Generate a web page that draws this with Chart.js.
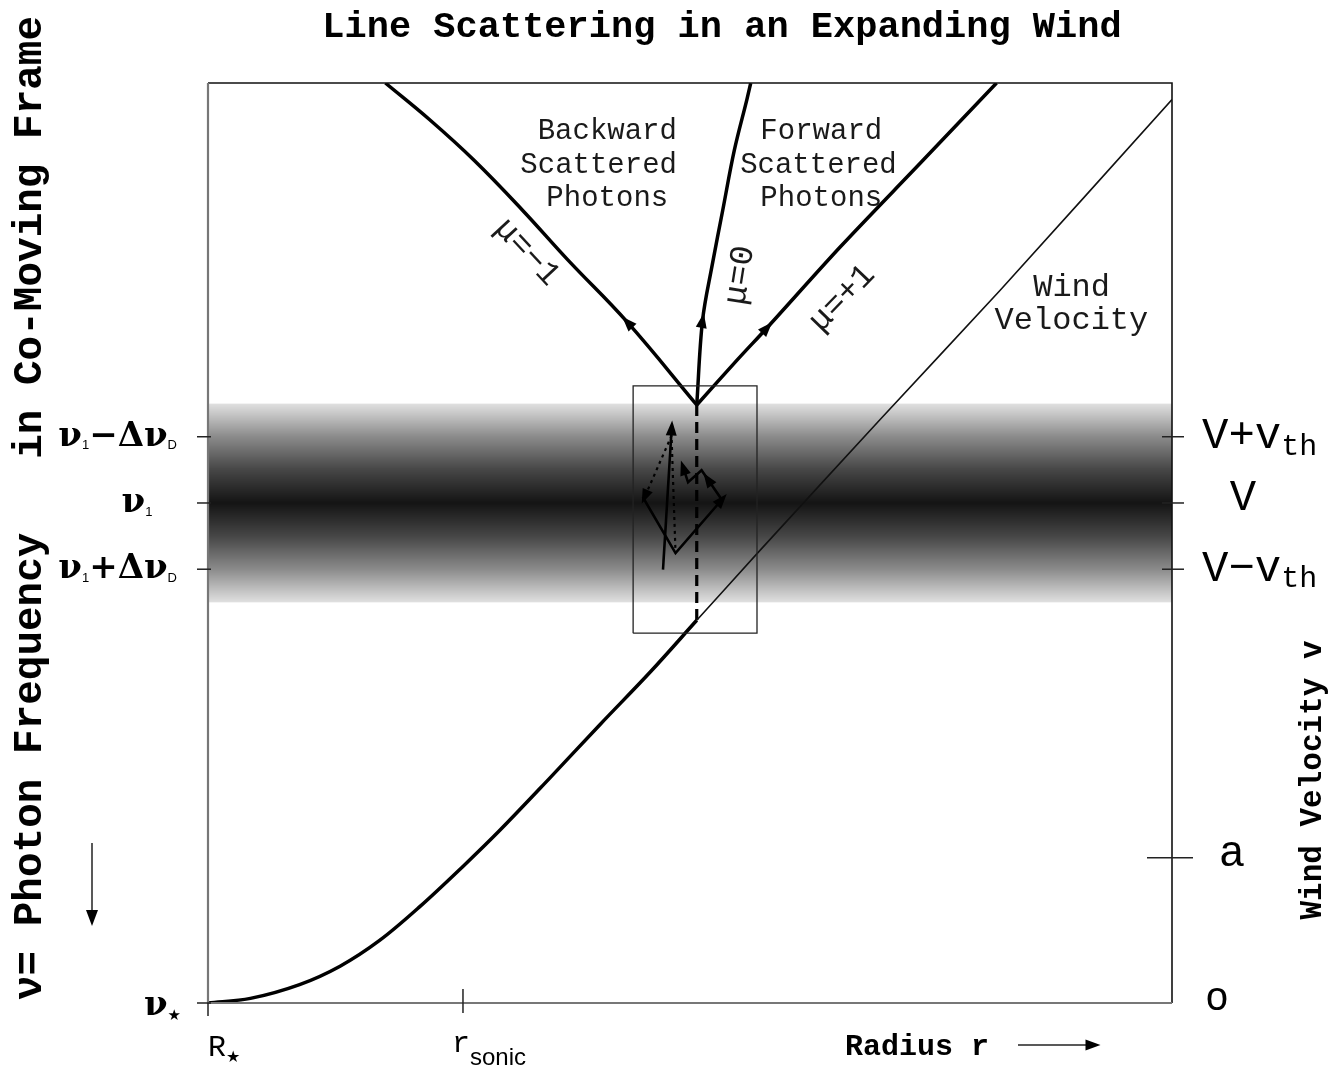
<!DOCTYPE html>
<html><head><meta charset="utf-8">
<script src="https://cdn.jsdelivr.net/npm/chart.js@4.4.1/dist/chart.umd.min.js"></script>
<style>html,body{margin:0;padding:0;background:#fff}canvas{display:block}</style>
</head><body>
<canvas id="c" width="1332" height="1072"></canvas>
<script>
// ---------------- data (r = radius, v = velocity / frequency, arbitrary units 0..100) ----------------
const windThickR = [0, 4.4, 9.5, 13.7, 17.8, 22.0, 26.5, 30.3, 35.5, 40.7, 45.9, 50.7];
const windThickV = [0, 0.5, 2.0, 4.0, 6.8, 10.5, 14.9, 18.8, 24.5, 30.3, 36.0, 41.6];
const windThinR = [50.7, 57.0, 69.7, 82.2, 100];
const windThinV = [41.6, 48.9, 63.4, 77.5, 98.2];

const muMinusR = [50.7, 43.5, 37.3, 32.6, 27.6, 23.0, 18.4];
const muMinusV = [65.0, 74.0, 80.8, 86.2, 91.6, 96.0, 100];
const muZeroR = [50.7, 51.3, 52.3, 53.4, 54.6, 55.9, 56.3];
const muZeroV = [65.0, 74.2, 80.2, 86.2, 92.7, 98.2, 100];
const muPlusR = [50.7, 54.9, 58.0, 65.6, 73.9, 81.8];
const muPlusV = [65.0, 69.9, 73.4, 82.2, 91.3, 100];

const dashR = [50.7, 50.7];
const dashV = [65.0, 41.6];

const boxR = [44.1, 56.95];
const boxV = [40.2, 67.07];

const zigAR = [47.2, 48.1];
const zigAV = [47.1, 62.5];
const zigBR = [48.1, 45.3];
const zigBV = [61.7, 55.0];
const zigB2R = [48.1, 48.5];
const zigB2V = [61.2, 48.9];
const zigCR = [45.1, 48.5, 53.3, 51.2, 49.8, 49.3];
const zigCV = [55.0, 48.9, 54.7, 57.9, 56.6, 58.2];

const bandCenter = 54.35;   // nu_1 / V
const bandDelta = 7.2;      // Doppler width / v_th
const bandHalf = 10.8;      // visible extent of the line profile

const leftTickV = [bandCenter + bandDelta, bandCenter, bandCenter - bandDelta, 0];
const leftTickLabels = ["ν_{1}−Δν_{D}", "ν_{1}", "ν_{1}+Δν_{D}", "ν_{★}"];
const rightTickV = [bandCenter + bandDelta, bandCenter, bandCenter - bandDelta, 15.8, 0];
const rightTickLabels = ["V+v_{th}", "V", "V−v_{th}", "a", "o"];
const bottomTickR = [0, 26.45];
const bottomTickLabels = ["R_{★}", "r_{sonic}"];

const titleText = "Line Scattering in an Expanding Wind";
const leftTitle = "ν= Photon Frequency   in Co-Moving Frame";
const rightTitle = "Wind Velocity v";
const xTitle = "Radius r";

// ---------------- helpers ----------------
const pts = (rs, vs) => rs.map((r, i) => ({x: r, y: vs[i]}));
const ds = (label, rs, vs, w, extra) => Object.assign({
  label, data: pts(rs, vs), showLine: true, borderColor: '#000', backgroundColor: '#000',
  borderWidth: w, pointRadius: 0, tension: 0, fill: false
}, extra || {});

const MONO = '"Liberation Mono", "Courier New", monospace';
const SERIF = '"DejaVu Serif", serif';
const SANS = '"Liberation Sans", Arial, sans-serif';

function parseRich(s) {
  const parts = []; const re = /_\{([^}]*)\}/g; let last = 0, m;
  while ((m = re.exec(s))) {
    if (m.index > last) parts.push({t: s.slice(last, m.index), sub: false});
    parts.push({t: m[1], sub: true}); last = re.lastIndex;
  }
  if (last < s.length) parts.push({t: s.slice(last), sub: false});
  return parts;
}
function drawRich(ctx, s, x, y, align, st) {
  const parts = parseRich(s);
  let w = 0;
  parts.forEach(p => { ctx.font = p.sub ? (p.t === '★' ? st.star : st.sub) : st.main; p.w = ctx.measureText(p.t).width; w += p.w; });
  let cx = align === 'right' ? x - w : align === 'center' ? x - w / 2 : x;
  ctx.textAlign = 'left'; ctx.textBaseline = 'middle';
  parts.forEach(p => {
    ctx.font = p.sub ? (p.t === '★' ? st.star : st.sub) : st.main;
    ctx.fillText(p.t, cx, y + (p.sub ? (p.t === '★' ? st.starDy : st.subDy) : 0));
    cx += p.w;
  });
}
function tri(ctx, x, y, ang, len, wid) {
  ctx.save(); ctx.translate(x, y); ctx.rotate(ang);
  ctx.beginPath(); ctx.moveTo(len / 2, 0); ctx.lineTo(-len / 2, -wid / 2); ctx.lineTo(-len / 2, wid / 2);
  ctx.closePath(); ctx.fill(); ctx.restore();
}

const arrowMarks = [
  {r: muMinusR, v: muMinusV, a: 1, b: 2, t: 0},
  {r: muZeroR, v: muZeroV, a: 1, b: 2, t: 0},
  {r: muPlusR, v: muPlusV, a: 2, b: 3, t: 0},
  {r: zigAR, v: zigAV, a: 0, b: 1, t: 1},
  {r: zigBR, v: zigBV, a: 0, b: 1, t: 1},
  {r: zigCR, v: zigCV, a: 1, b: 2, t: 1},
  {r: zigCR, v: zigCV, a: 2, b: 3, t: 0.7},
  {r: zigCR, v: zigCV, a: 4, b: 5, t: 1}
];

const notes = [
  {t: "Backward", r: 34.2, v: 94.8, size: 29},
  {t: "Scattered", r: 32.4, v: 91.1, size: 29},
  {t: "Photons", r: 35.1, v: 87.5, size: 29},
  {t: "Forward", r: 57.3, v: 94.8, size: 29},
  {t: "Scattered", r: 55.2, v: 91.1, size: 29},
  {t: "Photons", r: 57.3, v: 87.5, size: 29},
  {t: "Wind", r: 85.6, v: 77.8, size: 32},
  {t: "Velocity", r: 81.6, v: 74.2, size: 32}
];
const muNotes = [
  {t: "μ=−1", r: 33.1, v: 81.6, rot: 47},
  {t: "μ=0", r: 55.2, v: 79.1, rot: -81},
  {t: "μ=+1", r: 65.8, v: 76.6, rot: -46}
];

// ---------------- plugins ----------------
const bandPlugin = {
  id: 'band',
  beforeDatasetsDraw(chart) {
    const {ctx, chartArea: a, scales: {y}} = chart;
    const yt = y.getPixelForValue(bandCenter + bandHalf), yb = y.getPixelForValue(bandCenter - bandHalf);
    const g = ctx.createLinearGradient(0, yt, 0, yb);
    const stops = [[0, 0.12], [0.05, 0.22], [0.164, 0.45], [0.33, 0.72], [0.5, 0.92], [0.67, 0.72], [0.836, 0.45], [0.95, 0.22], [1, 0.12]];
    stops.forEach(([o, al]) => g.addColorStop(o, `rgba(0,0,0,${al})`));
    ctx.save(); ctx.fillStyle = g; ctx.fillRect(a.left, yt, a.right - a.left, yb - yt); ctx.restore();
  }
};

const decoPlugin = {
  id: 'deco',
  afterDatasetsDraw(chart) {
    const {ctx, scales: {x, y}} = chart;
    ctx.save(); ctx.fillStyle = '#000';
    arrowMarks.forEach(m => {
      const x0 = x.getPixelForValue(m.r[m.a]), y0 = y.getPixelForValue(m.v[m.a]);
      const x1 = x.getPixelForValue(m.r[m.b]), y1 = y.getPixelForValue(m.v[m.b]);
      const ang = Math.atan2(y1 - y0, x1 - x0);
      tri(ctx, x0 + (x1 - x0) * m.t, y0 + (y1 - y0) * m.t, ang, 15, 11);
    });
    ctx.restore();
  },
  afterDraw(chart) {
    const {ctx, chartArea: a, scales: {x, y}} = chart;
    ctx.save();
    // frame
    ctx.lineCap = 'butt';
    ctx.strokeStyle = '#111'; ctx.lineWidth = 1.6;
    ctx.beginPath(); ctx.moveTo(a.left, a.top); ctx.lineTo(a.right, a.top); ctx.lineTo(a.right, a.bottom); ctx.stroke();
    ctx.strokeStyle = '#777'; ctx.lineWidth = 2.2;
    ctx.beginPath(); ctx.moveTo(a.left, a.top); ctx.lineTo(a.left, a.bottom); ctx.lineTo(a.right, a.bottom); ctx.stroke();

    // left ticks + labels
    ctx.strokeStyle = '#222'; ctx.lineWidth = 1.5; ctx.fillStyle = '#000';
    const leftSt = {main: 'bold 34px ' + SERIF, sub: '13px ' + SANS, subDy: 9, star: '15px "DejaVu Sans"', starDy: 10};
    leftTickV.forEach((v, i) => {
      const py = y.getPixelForValue(v);
      ctx.beginPath(); ctx.moveTo(a.left - 11, py); ctx.lineTo(a.left + 3, py); ctx.stroke();
      const lbl = leftTickLabels[i];
      if (lbl === "ν_{1}") drawRich(ctx, lbl, 137, py, 'center', leftSt);
      else if (i === 3) drawRich(ctx, lbl, 181, py + 3, 'right', leftSt);
      else drawRich(ctx, lbl, 177, py, 'right', leftSt);
    });
    // right ticks + labels
    const rightSt = {main: '44px ' + MONO, sub: '30px ' + MONO, subDy: 10, star: '', starDy: 0};
    rightTickV.forEach((v, i) => {
      const py = y.getPixelForValue(v);
      if (i === 3) { ctx.beginPath(); ctx.moveTo(a.right - 25, py); ctx.lineTo(a.right + 21, py); ctx.stroke(); }
      else if (i < 3) { ctx.beginPath(); ctx.moveTo(a.right - 10, py); ctx.lineTo(a.right + 12, py); ctx.stroke(); }
      const lbl = rightTickLabels[i];
      if (i === 1) drawRich(ctx, lbl, 1243, py - 5, 'center', rightSt);
      else if (i === 3) drawRich(ctx, lbl, 1232, py - 3, 'center', rightSt);
      else if (i === 4) drawRich(ctx, lbl, 1217, py - 4, 'center', {main: '40px ' + MONO});
      else drawRich(ctx, lbl, 1202, py, 'left', rightSt);
    });
    // bottom ticks + labels
    bottomTickR.forEach((r, i) => {
      const px = x.getPixelForValue(r);
      ctx.beginPath();
      if (i === 0) { ctx.moveTo(px, a.bottom); ctx.lineTo(px, a.bottom + 13); }
      else { ctx.moveTo(px, a.bottom - 14); ctx.lineTo(px, a.bottom + 10); }
      ctx.stroke();
    });
    drawRich(ctx, bottomTickLabels[0], x.getPixelForValue(bottomTickR[0]), 1048,
      'left', {main: '30px ' + MONO, sub: '', subDy: 0, star: '16px "DejaVu Sans"', starDy: 10});
    drawRich(ctx, bottomTickLabels[1], x.getPixelForValue(bottomTickR[1]) - 11, 1044,
      'left', {main: '30px ' + MONO, sub: '24px ' + SANS, subDy: 14, star: '', starDy: 0});

    // x-title and arrow
    ctx.font = 'bold 30px ' + MONO; ctx.textAlign = 'left'; ctx.textBaseline = 'alphabetic';
    ctx.fillText(xTitle, 845, 1055);
    ctx.lineWidth = 1.5; ctx.strokeStyle = '#222';
    ctx.beginPath(); ctx.moveTo(1018, 1045); ctx.lineTo(1088, 1045); ctx.stroke();
    tri(ctx, 1093, 1045, 0, 15, 11);

    // main title
    ctx.font = 'bold 37px ' + MONO; ctx.textAlign = 'center'; ctx.textBaseline = 'middle';
    ctx.fillText(titleText, 722, 28);

    // left vertical title
    ctx.save(); ctx.translate(31, 508); ctx.rotate(-Math.PI / 2);
    ctx.font = 'bold 41px ' + MONO; ctx.fillText(leftTitle, 0, 0); ctx.restore();
    // left down arrow
    ctx.beginPath(); ctx.moveTo(92, 843); ctx.lineTo(92, 912); ctx.stroke();
    tri(ctx, 92, 918, Math.PI / 2, 16, 12);

    // right vertical title
    ctx.save(); ctx.translate(1313, 780); ctx.rotate(-Math.PI / 2);
    ctx.font = 'bold 31px ' + MONO; ctx.fillText(rightTitle, 0, 0); ctx.restore();

    // in-plot notes
    ctx.fillStyle = '#1a1a1a'; ctx.textAlign = 'left';
    notes.forEach(n => {
      ctx.font = n.size + 'px ' + MONO;
      ctx.fillText(n.t, x.getPixelForValue(n.r), y.getPixelForValue(n.v));
    });
    ctx.textAlign = 'center';
    muNotes.forEach(n => {
      ctx.save(); ctx.translate(x.getPixelForValue(n.r), y.getPixelForValue(n.v));
      ctx.rotate(n.rot * Math.PI / 180);
      ctx.font = '33px ' + MONO; ctx.fillText(n.t, 0, 0); ctx.restore();
    });
    ctx.restore();
  }
};

// ---------------- chart ----------------
new Chart(document.getElementById('c'), {
  type: 'scatter',
  data: {
    datasets: [
      ds('box', [boxR[0], boxR[1], boxR[1], boxR[0], boxR[0]], [boxV[0], boxV[0], boxV[1], boxV[1], boxV[0]], 1.3, {borderColor: '#222'}),
      ds('wind', windThickR, windThickV, 3.5, {tension: 0.35}),
      ds('windThin', windThinR, windThinV, 1.6, {tension: 0.2, borderColor: '#111'}),
      ds('muMinus', muMinusR, muMinusV, 3.5, {tension: 0.4}),
      ds('muZero', muZeroR, muZeroV, 3.5, {tension: 0.35}),
      ds('muPlus', muPlusR, muPlusV, 3.5, {tension: 0.3}),
      ds('dash', dashR, dashV, 3.2, {borderDash: [11, 6]}),
      ds('zigA', zigAR, zigAV, 2.6),
      ds('zigB', zigBR, zigBV, 2.2, {borderDash: [3, 4]}),
      ds('zigB2', zigB2R, zigB2V, 2.2, {borderDash: [3, 4]}),
      ds('zigC', zigCR, zigCV, 2.6)
    ]
  },
  options: {
    responsive: false, animation: false, events: [],
    layout: {padding: {left: 208, right: 160, top: 83, bottom: 69}},
    plugins: {legend: {display: false}, tooltip: {enabled: false}},
    scales: {
      x: {type: 'linear', min: 0, max: 100, display: false},
      y: {type: 'linear', min: 0, max: 100, display: false}
    }
  },
  plugins: [bandPlugin, decoPlugin]
});
</script>
</body></html>
